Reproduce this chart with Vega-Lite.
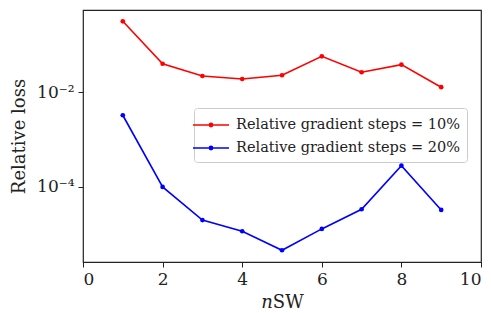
{
  "$schema": "https://vega.github.io/schema/vega-lite/v6.json",
  "width": 398,
  "height": 252,
  "autosize": {"type": "none"},
  "padding": {"left": 83, "top": 10, "right": 10, "bottom": 51},
  "config": {
    "font": "DejaVu Serif",
    "view": {"stroke": "#222", "strokeWidth": 1.2},
    "axis": {"domain": false, "grid": false, "tickColor": "#222", "tickSize": 5, "tickWidth": 1, "labelColor": "#222", "titleColor": "#222", "labelFont": "DejaVu Serif", "titleFont": "DejaVu Serif", "labelFontSize": 17, "titleFontSize": 18, "titleFontWeight": "normal"},
    "legend": {"labelFont": "DejaVu Serif"}
  },
  "data": {"values": [
    {"n": 1, "loss": 0.316, "series": "Relative gradient steps = 10%"},
    {"n": 2, "loss": 0.040, "series": "Relative gradient steps = 10%"},
    {"n": 3, "loss": 0.0221, "series": "Relative gradient steps = 10%"},
    {"n": 4, "loss": 0.0191, "series": "Relative gradient steps = 10%"},
    {"n": 5, "loss": 0.0229, "series": "Relative gradient steps = 10%"},
    {"n": 6, "loss": 0.0575, "series": "Relative gradient steps = 10%"},
    {"n": 7, "loss": 0.0265, "series": "Relative gradient steps = 10%"},
    {"n": 8, "loss": 0.0383, "series": "Relative gradient steps = 10%"},
    {"n": 9, "loss": 0.0128, "series": "Relative gradient steps = 10%"},
    {"n": 1, "loss": 0.00327, "series": "Relative gradient steps = 20%"},
    {"n": 2, "loss": 0.0001, "series": "Relative gradient steps = 20%"},
    {"n": 3, "loss": 0.00002, "series": "Relative gradient steps = 20%"},
    {"n": 4, "loss": 0.0000116, "series": "Relative gradient steps = 20%"},
    {"n": 5, "loss": 0.0000046, "series": "Relative gradient steps = 20%"},
    {"n": 6, "loss": 0.000013, "series": "Relative gradient steps = 20%"},
    {"n": 7, "loss": 0.0000338, "series": "Relative gradient steps = 20%"},
    {"n": 8, "loss": 0.000282, "series": "Relative gradient steps = 20%"},
    {"n": 9, "loss": 0.0000327, "series": "Relative gradient steps = 20%"}
  ]},
  "mark": {"type": "line", "strokeWidth": 1.6, "point": {"filled": true, "size": 22}},
  "encoding": {
    "x": {"field": "n", "type": "quantitative", "scale": {"domain": [0, 10], "nice": false},
      "axis": {"values": [0, 2, 4, 6, 8, 10], "title": "𝑛SW", "titlePadding": 6, "labelPadding": 4}},
    "y": {"field": "loss", "type": "quantitative", "scale": {"type": "log", "domain": [0.0000026, 0.547], "nice": false},
      "axis": {"values": [0.01, 0.0001], "labelExpr": "datum.value > 0.001 ? '10⁻²' : '10⁻⁴'", "title": "Relative loss", "titlePadding": 8, "labelPadding": 4}},
    "color": {"field": "series", "type": "nominal",
      "scale": {"domain": ["Relative gradient steps = 10%", "Relative gradient steps = 20%"], "range": ["#ff0000", "#0000ff"]},
      "legend": {"title": null, "orient": "none", "legendX": 111, "legendY": 98, "labelFont": "DejaVu Serif", "labelFontSize": 14.5, "labelLimit": 400, "labelColor": "#222", "padding": 7, "rowPadding": 6, "strokeColor": "#ccc", "fillColor": "white", "cornerRadius": 3, "symbolType": "M-2,0H2M-0.18,0A0.18,0.18 0 1,0 0.18,0A0.18,0.18 0 1,0 -0.18,0", "symbolSize": 324, "symbolStrokeWidth": 1.6, "labelOffset": 15}}
  }
}
